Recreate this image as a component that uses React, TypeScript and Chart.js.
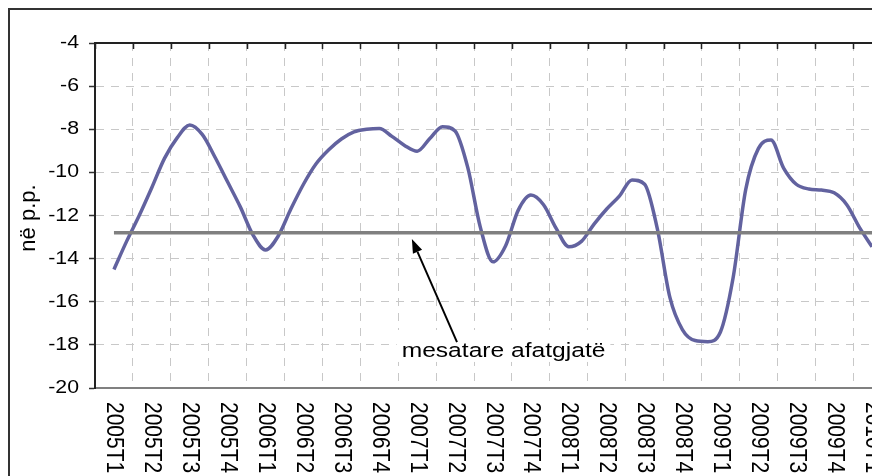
import React, { useEffect, useRef } from 'react';
import { Chart, registerables } from 'chart.js';

Chart.register(...registerables);

// ---------- data ----------
const quarterLabels = [
  '2005T1', '2005T2', '2005T3', '2005T4',
  '2006T1', '2006T2', '2006T3', '2006T4',
  '2007T1', '2007T2', '2007T3', '2007T4',
  '2008T1', '2008T2', '2008T3', '2008T4',
  '2009T1', '2009T2', '2009T3', '2009T4',
  '2010T1',
];

// monthly observations, 2005T1 .. 2010T1 (three per quarter)
const gapValues = [
  -14.5, -13.2, -12.0, -10.7, -9.35, -8.4, -7.8, -8.25, -9.3, -10.45,
  -11.6, -12.9, -13.6, -12.95, -11.7, -10.55, -9.6, -8.95, -8.45, -8.12,
  -8.0, -7.96, -8.33, -8.75, -9.02, -8.43, -7.88, -8.08, -9.77, -12.55,
  -14.15, -13.4, -11.75, -11.05, -11.5, -12.6, -13.45, -13.2, -12.4, -11.7,
  -11.1, -10.35, -10.55, -12.6, -15.8, -17.3, -17.8, -17.85, -17.4, -14.9,
  -10.8, -8.9, -8.5, -9.8, -10.55, -10.77, -10.82, -10.95, -11.5, -12.55,
  -13.45,
];

const longTermAverage = -12.8;

const yTickValues = [-4, -6, -8, -10, -12, -14, -16, -18, -20];
const yMin = -20;
const yMax = -4;
const yAxisTitle = 'në p.p.';

const annotationText = 'mesatare afatgjatë';
const annotationTextAt = { x: 7.59, y: -18.56 };
const annotationArrowFrom = { x: 9.05, y: -17.87 };
const annotationArrowTo = { x: 7.86, y: -13.09 };

// ---------- styles ----------
const FONT = '"Liberation Sans", Arial, sans-serif';
const LINE_COLOR = '#62629f';
const AVG_COLOR = '#808080';
const GRID_COLOR = '#c8c8c8';
const AXIS_DARK = '#222222';

function drawText(
  ctx: CanvasRenderingContext2D,
  text: string,
  x: number,
  y: number,
  size: number,
  sx: number,
  align: CanvasTextAlign,
  baseline: CanvasTextBaseline,
  rotate = 0
) {
  ctx.save();
  ctx.translate(x, y);
  ctx.scale(sx, 1);
  if (rotate) ctx.rotate(rotate);
  ctx.font = `${size}px ${FONT}`;
  ctx.textAlign = align;
  ctx.textBaseline = baseline;
  ctx.fillStyle = '#000';
  ctx.fillText(text, 0, 0);
  ctx.restore();
}

const decorPlugin = {
  id: 'decor',
  afterDatasetsDraw(chart: any) {
    const { ctx, scales } = chart;
    const x2 = scales.x2;
    const y = scales.y;
    ctx.save();
    // annotation label with white background
    const tx = x2.getPixelForValue(annotationTextAt.x);
    const ty = y.getPixelForValue(annotationTextAt.y);
    const size = 20.5;
    const sx = 1.2;
    ctx.font = `${size}px ${FONT}`;
    const w = ctx.measureText(annotationText).width * sx;
    ctx.fillStyle = '#ffffff';
    ctx.fillRect(tx - 5, ty - 27, w + 10, 32);
    drawText(ctx, annotationText, tx, ty, size, sx, 'left', 'alphabetic');

    // arrow
    const ax1 = x2.getPixelForValue(annotationArrowFrom.x);
    const ay1 = y.getPixelForValue(annotationArrowFrom.y);
    const ax2 = x2.getPixelForValue(annotationArrowTo.x);
    const ay2 = y.getPixelForValue(annotationArrowTo.y);
    const ang = Math.atan2(ay2 - ay1, ax2 - ax1);
    const headLen = 14;
    const headHalf = 5;
    const bx = ax2 - headLen * Math.cos(ang);
    const by = ay2 - headLen * Math.sin(ang);
    ctx.strokeStyle = '#000';
    ctx.lineWidth = 2;
    ctx.beginPath();
    ctx.moveTo(ax1, ay1);
    ctx.lineTo(bx, by);
    ctx.stroke();
    ctx.fillStyle = '#000';
    ctx.beginPath();
    ctx.moveTo(ax2, ay2);
    ctx.lineTo(bx + headHalf * Math.sin(ang), by - headHalf * Math.cos(ang));
    ctx.lineTo(bx - headHalf * Math.sin(ang), by + headHalf * Math.cos(ang));
    ctx.closePath();
    ctx.fill();
    ctx.restore();
  },
  afterDraw(chart: any) {
    const { ctx, chartArea, scales } = chart;
    const x = scales.x;
    const x2 = scales.x2;
    const y = scales.y;
    ctx.save();
    // top frame line with inward tick marks
    ctx.strokeStyle = AXIS_DARK;
    ctx.lineWidth = 2;
    ctx.beginPath();
    ctx.moveTo(chartArea.left - 1, chartArea.top);
    ctx.lineTo(chartArea.right, chartArea.top);
    ctx.stroke();
    ctx.lineWidth = 1.5;
    ctx.beginPath();
    for (let k = 0; k <= quarterLabels.length; k++) {
      const px = Math.round(x2.getPixelForValue(k - 0.5)) + 0.5;
      ctx.moveTo(px, chartArea.top);
      ctx.lineTo(px, chartArea.top + 6);
    }
    ctx.stroke();

    // y tick labels
    yTickValues.forEach((v) => {
      drawText(ctx, String(v), chartArea.left - 16, y.getPixelForValue(v), 18.5, 1.15, 'right', 'middle');
    });

    // x category labels, rotated clockwise
    quarterLabels.forEach((lab, i) => {
      drawText(ctx, lab, x.getPixelForValue(i), chartArea.bottom + 14, 21, 1.12, 'left', 'middle', Math.PI / 2);
    });

    // y axis title
    const cy = (chartArea.top + chartArea.bottom) / 2 + 2.5;
    drawText(ctx, yAxisTitle, 25, cy, 22, 1, 'center', 'alphabetic', -Math.PI / 2);
    ctx.restore();
  },
};

export default function App() {
  const canvasRef = useRef<HTMLCanvasElement | null>(null);

  useEffect(() => {
    const canvas = canvasRef.current;
    if (!canvas) return;
    const n = quarterLabels.length;
    const chart = new Chart(canvas, {
      type: 'line',
      data: {
        labels: quarterLabels,
        datasets: [
          {
            label: annotationText,
            data: [
              { x: 0, y: longTermAverage },
              { x: n - 1, y: longTermAverage },
            ],
            xAxisID: 'x2',
            yAxisID: 'y',
            borderColor: AVG_COLOR,
            borderWidth: 3.5,
            pointRadius: 0,
            fill: false,
          },
          {
            label: 'gap',
            data: gapValues.map((v, i) => ({ x: i / 3, y: v })),
            xAxisID: 'x2',
            yAxisID: 'y',
            borderColor: LINE_COLOR,
            borderWidth: 3.5,
            pointRadius: 0,
            cubicInterpolationMode: 'monotone',
            fill: false,
          },
        ],
      },
      options: {
        animation: false,
        responsive: false,
        devicePixelRatio: 1,
        layout: { padding: { left: 0, top: 33, right: 39, bottom: 142 } },
        plugins: {
          legend: { display: false },
          tooltip: { enabled: false },
        },
        scales: {
          x: {
            type: 'category',
            position: 'bottom',
            offset: true,
            grid: {
              offset: true,
              drawTicks: false,
              color: GRID_COLOR,
              lineWidth: 1,
            },
            border: { display: true, color: '#808080', width: 2, dash: [8, 7] },
            ticks: { display: false },
            afterFit: (s: any) => {
              s.height = 0;
            },
          },
          x2: {
            type: 'linear',
            display: false,
            min: -0.5,
            max: n - 0.5,
          },
          y: {
            type: 'linear',
            position: 'left',
            min: yMin,
            max: yMax,
            ticks: { display: false, stepSize: 2 },
            grid: {
              color: GRID_COLOR,
              lineWidth: 1,
              tickLength: 6,
              tickColor: '#333333',
              tickWidth: 1.5,
            },
            border: { display: true, color: AXIS_DARK, width: 2, dash: [8, 7] },
            afterFit: (s: any) => {
              s.width = 85;
            },
          },
        },
      } as any,
      plugins: [decorPlugin],
    });
    return () => chart.destroy();
  }, []);

  return (
    <div
      style={{
        position: 'relative',
        width: 872,
        height: 468,
        overflow: 'hidden',
        borderTop: '2px solid #333',
        borderLeft: '2px solid #333',
        boxSizing: 'border-box',
        background: '#fff',
      }}
    >
      <canvas
        ref={canvasRef}
        width={920}
        height={520}
        style={{ position: 'absolute', left: 0, top: 0, width: 920, height: 520, display: 'block' }}
      />
    </div>
  );
}
